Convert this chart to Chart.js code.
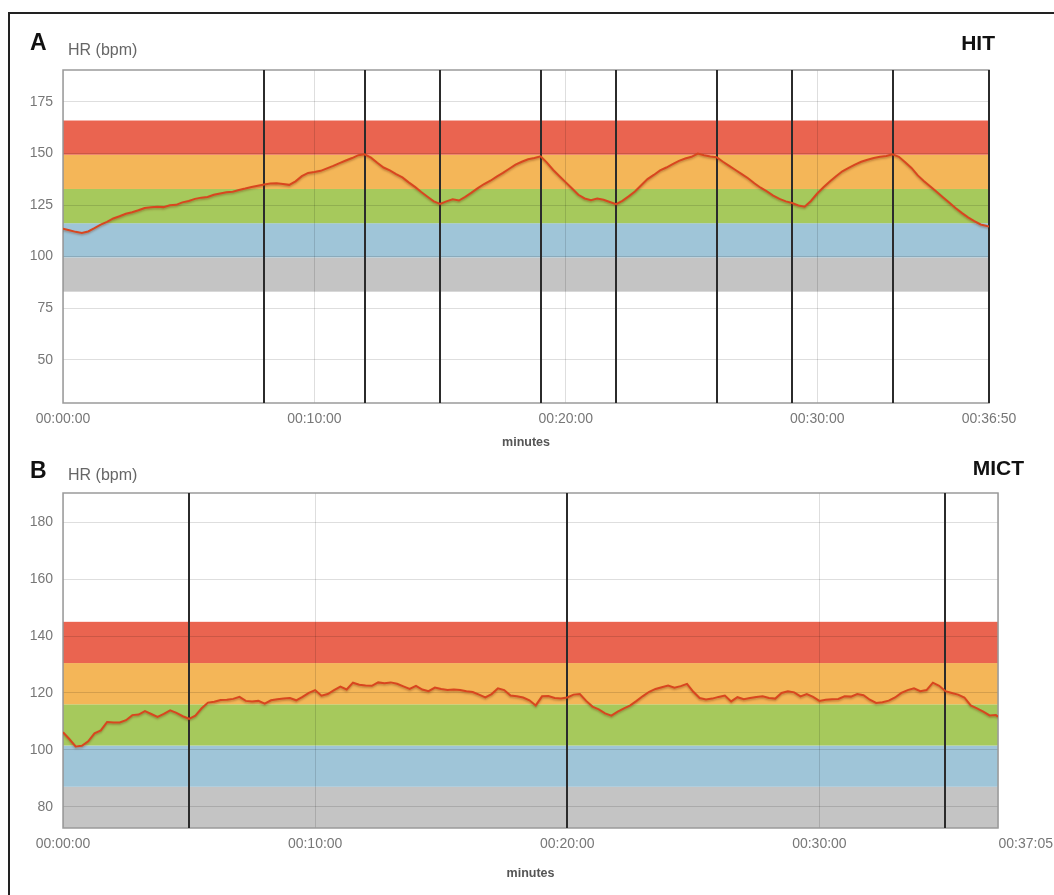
<!DOCTYPE html>
<html>
<head>
<meta charset="utf-8">
<script src="https://cdn.jsdelivr.net/npm/chart.js@4.4.1/dist/chart.umd.min.js"></script>
<style>
  html, body { margin: 0; padding: 0; background: #fff; }
  body { width: 1054px; height: 895px; overflow: hidden; position: relative; font-family: "Liberation Sans", Arial, sans-serif; }
  .frame { position: absolute; left: 8px; top: 12px; width: 1100px; height: 950px; border-left: 2px solid #222; border-top: 2px solid #222; }
  canvas { position: absolute; left: 0; }
  .lbl { position: absolute; white-space: nowrap; line-height: 1; }
  .panel { font-weight: bold; color: #111; }
  .unit { color: #666; font-size: 16px; }
</style>
</head>
<body>
<div class="frame"></div>
<canvas id="hit" width="1054" height="460" style="top:0"></canvas>
<canvas id="mict" width="1054" height="435" style="top:460px"></canvas>

<div class="lbl panel" style="left:30px; top:31px; font-size:23px;">A</div>
<div class="lbl unit" style="left:68px; top:42px;">HR (bpm)</div>
<div class="lbl panel" style="right:59px; top:32px; font-size:21px;">HIT</div>

<div class="lbl panel" style="left:30px; top:459px; font-size:23px;">B</div>
<div class="lbl unit" style="left:68px; top:467px;">HR (bpm)</div>
<div class="lbl panel" style="right:30px; top:457px; font-size:21px;">MICT</div>

<script>
// Heart-rate samples are logged every 15 s; the last sample closes the session.
const STEP_S = 15;

// HIT session: 36:50 long
const hitDuration = 2210;
const hitHR = [
  113.5,112.8,112.0,111.5,112.2,113.8,115.5,116.8,118.5,119.6,
  120.8,121.5,122.5,123.6,123.9,124.2,124.0,124.9,125.1,126.3,
  127.0,128.0,128.6,128.9,130.0,130.6,131.2,131.5,132.3,133.0,
  133.8,134.4,135.0,
  135.4,135.6,135.2,134.8,136.5,139.0,140.6,141.0,141.6,142.8,
  144.0,145.3,146.6,147.8,149.2,149.6,
  148.0,145.5,143.2,141.8,140.0,138.4,136.0,133.8,131.3,129.0,
  126.8,125.6,
  126.8,127.8,127.2,129.0,131.0,133.2,135.2,136.8,138.8,140.6,
  142.6,144.6,146.0,147.2,147.8,148.6,
  145.6,142.0,139.0,136.0,133.0,130.0,128.2,127.4,128.2,127.6,
  126.5,125.4,
  127.0,129.2,131.6,134.6,137.6,139.6,141.8,143.2,144.8,146.4,
  147.6,148.4,150.0,149.2,148.6,148.2,
  146.0,144.0,142.0,140.0,138.0,135.6,133.4,131.6,129.6,128.0,
  126.8,126.0,
  124.8,124.2,127.0,130.6,133.6,136.4,139.0,141.4,143.0,144.6,
  146.0,147.0,147.8,148.4,148.8,149.6,
  148.4,145.8,143.0,139.4,136.6,134.0,131.4,128.8,126.2,123.6,
  121.2,119.0,117.2,115.6,114.8,114.6
];
// interval boundaries (seconds)
const hitIntervalMarks = [480, 720, 900, 1140, 1320, 1560, 1740, 1980, 2210];
const hitMaxHR = 166;
const hitYRange = [29, 190.5];
const hitYTicks = [50, 75, 100, 125, 150, 175];
const hitXTicks = [0, 600, 1200, 1800, 2210];

// MICT session: 37:05 long
const mictDuration = 2225;
const mictHR = [
  106.2,103.8,101.2,101.4,103.0,105.8,106.8,109.8,109.6,109.6,
  110.4,112.2,112.4,113.6,112.6,111.6,112.6,113.9,113.0,111.8,
  110.9,112.0,114.6,116.6,116.9,117.5,117.6,117.9,118.6,117.2,
  117.0,117.2,116.2,117.4,117.8,118.0,118.2,117.4,118.6,120.0,
  121.0,119.0,119.6,121.0,122.2,121.2,123.6,122.9,122.6,122.5,
  123.7,123.4,123.7,123.2,122.3,121.4,122.5,121.2,120.6,121.9,
  121.4,121.0,121.2,121.0,120.6,120.3,119.4,118.4,119.6,121.6,
  121.0,119.1,118.8,118.4,117.4,
  115.6,118.8,118.9,118.2,118.0,118.4,119.4,119.6,117.2,115.2,
  114.2,112.8,112.0,113.4,114.6,115.6,117.2,118.9,120.4,121.4,
  122.0,122.6,121.8,122.4,123.2,120.4,118.2,117.7,118.0,118.6,
  119.1,117.0,118.5,117.8,118.2,118.6,118.8,118.2,118.0,120.0,
  120.6,120.2,118.8,119.6,118.6,117.2,117.6,117.8,117.9,118.8,
  118.7,119.6,119.2,117.6,116.5,116.7,117.3,118.4,120.0,121.0,
  121.6,120.6,121.0,123.6,122.5,120.6,120.0,119.4,118.4,115.6,
  114.6,113.4,112.1,112.2,111.6
];
const mictIntervalMarks = [300, 1200, 2100];
const mictMaxHR = 145;
const mictYRange = [72.5, 190.3];
const mictYTicks = [80, 100, 120, 140, 160, 180];
const mictXTicks = [0, 600, 1200, 1800, 2225];

// Training zones as % of HRmax, and their colours (lowest first)
const zonePercent = [50, 60, 70, 80, 90, 100];
const zoneColors = ['#c4c4c4', '#9fc5d8', '#a6c95c', '#f4b658', '#ea6450'];

const TICK_FONT = { family: '"Liberation Sans", Arial, sans-serif', size: 14 };
const TICK_PAD = 8;

function hms(sec) {
  const h = Math.floor(sec / 3600), m = Math.floor((sec % 3600) / 60), s = Math.round(sec % 60);
  return [h, m, s].map(v => String(v).padStart(2, '0')).join(':');
}

const zonePlugin = {
  id: 'zones',
  beforeDraw(chart, args, opts) {
    const { ctx, chartArea: a, scales: { y } } = chart;
    ctx.save();
    ctx.beginPath();
    ctx.rect(a.left, a.top, a.width, a.height);
    ctx.clip();
    for (let i = 0; i < opts.edges.length - 1; i++) {
      const y0 = y.getPixelForValue(opts.edges[i]);
      const y1 = y.getPixelForValue(opts.edges[i + 1]);
      ctx.fillStyle = opts.colors[i];
      ctx.fillRect(a.left, y1, a.width, y0 - y1);
    }
    ctx.restore();
  },
  beforeDatasetsDraw(chart, args, opts) {
    const { ctx, chartArea: a, scales: { x } } = chart;
    ctx.save();
    ctx.strokeStyle = '#9a9a9a';
    ctx.lineWidth = 1.5;
    ctx.strokeRect(a.left, a.top, a.width, a.height);
    ctx.strokeStyle = '#2b2b2b';
    ctx.lineWidth = 2;
    opts.marks.forEach(t => {
      const px = Math.round(x.getPixelForValue(t));
      ctx.beginPath();
      ctx.moveTo(px, a.top);
      ctx.lineTo(px, a.bottom);
      ctx.stroke();
    });
    ctx.restore();
  },
  beforeDatasetDraw(chart) {
    const ctx = chart.ctx;
    ctx.save();
    ctx.shadowColor = 'rgba(110,40,10,0.35)';
    ctx.shadowBlur = 2;
    ctx.shadowOffsetY = 1.5;
  },
  afterDatasetDraw(chart) {
    chart.ctx.restore();
  },
  afterDraw(chart, args, opts) {
    // last time label kept inside the canvas, flush with its right edge
    if (!opts.endLabelRight) return;
    const { ctx, scales: { x } } = chart;
    ctx.save();
    ctx.font = `${TICK_FONT.size}px ${TICK_FONT.family}`;
    ctx.fillStyle = '#777';
    ctx.textAlign = 'right';
    ctx.textBaseline = 'middle';
    ctx.fillText(hms(opts.endTick), chart.width - 1, x.top + TICK_PAD + TICK_FONT.size * 1.2 / 2);
    ctx.restore();
  }
};

function buildChart(id, s) {
  const points = s.hr.map((v, i) => ({ x: Math.min(i * STEP_S, s.duration), y: v }));
  const edges = zonePercent.map(p => s.maxHR * p / 100);
  const endTick = s.xTicks[s.xTicks.length - 1];
  return new Chart(document.getElementById(id), {
    type: 'line',
    data: {
      datasets: [{
        data: points,
        borderColor: '#d8461f',
        borderWidth: 2,
        pointRadius: 0,
        tension: 0,
        fill: false
      }]
    },
    options: {
      responsive: false,
      animation: false,
      devicePixelRatio: 1,
      events: [],
      layout: { padding: { left: 0, right: s.padRight, top: s.padTop, bottom: 0 } },
      plugins: {
        legend: { display: false },
        tooltip: { enabled: false },
        zones: { edges, colors: zoneColors, marks: s.marks, endLabelRight: s.endLabelRight, endTick }
      },
      scales: {
        x: {
          type: 'linear',
          min: 0,
          max: s.duration,
          afterBuildTicks: sc => { sc.ticks = s.xTicks.map(v => ({ value: v })); },
          afterFit: sc => { sc.height = s.xAxisHeight; },
          grid: { color: 'rgba(0,0,0,0.13)', lineWidth: 1, drawTicks: false },
          border: { display: false },
          ticks: {
            color: '#777',
            font: TICK_FONT,
            padding: TICK_PAD,
            maxRotation: 0,
            autoSkip: false,
            callback: v => (s.endLabelRight && v === endTick) ? '' : hms(v)
          },
          title: {
            display: true,
            text: 'minutes',
            color: '#555',
            font: { family: '"Liberation Sans", Arial, sans-serif', size: 12.5, weight: 'bold' },
            padding: { top: 0, bottom: s.titlePadBottom }
          }
        },
        y: {
          min: s.yRange[0],
          max: s.yRange[1],
          afterBuildTicks: sc => { sc.ticks = s.yTicks.map(v => ({ value: v })); },
          afterFit: sc => { sc.width = 63; },
          grid: { color: 'rgba(0,0,0,0.13)', lineWidth: 1, drawTicks: false },
          border: { display: false },
          ticks: { color: '#777', font: TICK_FONT, padding: 10 }
        }
      }
    },
    plugins: [zonePlugin]
  });
}

buildChart('hit', {
  hr: hitHR, duration: hitDuration, maxHR: hitMaxHR, marks: hitIntervalMarks,
  yRange: hitYRange, yTicks: hitYTicks, xTicks: hitXTicks,
  padTop: 70, padRight: 65, xAxisHeight: 57, titlePadBottom: 10, endLabelRight: false
});

buildChart('mict', {
  hr: mictHR, duration: mictDuration, maxHR: mictMaxHR, marks: mictIntervalMarks,
  yRange: mictYRange, yTicks: mictYTicks, xTicks: mictXTicks,
  padTop: 33, padRight: 56, xAxisHeight: 67, titlePadBottom: 14, endLabelRight: true
});
</script>
</body>
</html>
